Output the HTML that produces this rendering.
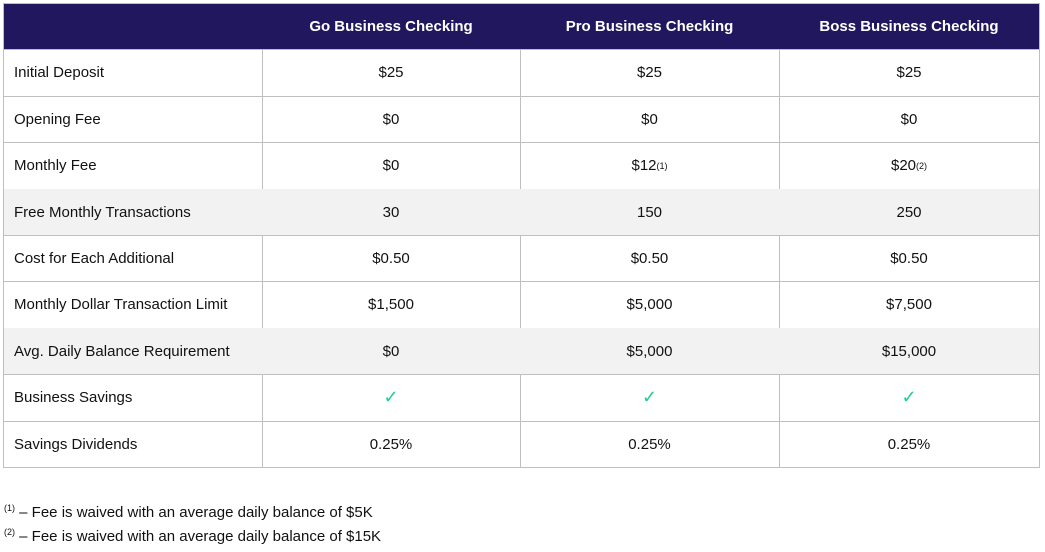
<!DOCTYPE html>
<html><head><meta charset="utf-8"><style>
body{margin:0;width:1045px;height:552px;background:#fff;font-family:"Liberation Sans",sans-serif;position:relative;overflow:hidden;color:#111}
.c{position:absolute;box-sizing:border-box;border-right:1px solid #bfbfbf;border-bottom:1px solid #bfbfbf;display:flex;align-items:center;font-size:15px}
.h{background:#21175e;color:#fff;font-weight:bold;justify-content:center;border-color:#bfbfbf}
.l{padding-left:10px}
.m{justify-content:center}
.g{background:#f2f2f2}
sup{font-size:9px;vertical-align:6px}
.chk{color:#1fcf8f;font-size:18px}
.f{position:absolute;left:4px;font-size:15px}
</style></head><body>
<div id="t"></div>
<div class="f" style="top:503px"><sup>(1)</sup> – Fee is waived with an average daily balance of $5K</div>
<div class="f" style="top:527px"><sup>(2)</sup> – Fee is waived with an average daily balance of $15K</div>
<script>
const cols=[3,262,520,779,1039];
const rows=[3,49,96,142,189,235,281,328,374,421,467];
const headers=["","Go Business Checking","Pro Business Checking","Boss Business Checking"];
const data=[
["Initial Deposit","$25","$25","$25"],
["Opening Fee","$0","$0","$0"],
["Monthly Fee","$0","$12<sup>(1)</sup>","$20<sup>(2)</sup>"],
["Free Monthly Transactions","30","150","250"],
["Cost for Each Additional","$0.50","$0.50","$0.50"],
["Monthly Dollar Transaction Limit","$1,500","$5,000","$7,500"],
["Avg. Daily Balance Requirement","$0","$5,000","$15,000"],
["Business Savings","✓","✓","✓"],
["Savings Dividends","0.25%","0.25%","0.25%"]];
const shaded=[3,6];
const t=document.getElementById('t');
function cell(r,c,html,cls,name){
 const d=document.createElement('div');
 d.className='c '+cls;
 d.style.left=cols[c]+'px';d.style.top=rows[r]+'px';
 d.style.width=(cols[c+1]-cols[c]+1)+'px';d.style.height=(rows[r+1]-rows[r]+1)+'px';
 if(c===0)d.style.borderLeft='1px solid #bfbfbf';
 if(r===0)d.style.borderTop='1px solid #bfbfbf';
 d.innerHTML=html==='✓'?'<span class="chk">✓</span>':html;
 
 
 t.appendChild(d);
}
headers.forEach((h,c)=>cell(0,c,h,'h','header-'+c));
data.forEach((row,i)=>row.forEach((v,c)=>cell(i+1,c,v,(c===0?'l':'m')+(shaded.includes(i)?' g':''),'cell-r'+(i+1)+'-c'+c)));
</script>
</body></html>
